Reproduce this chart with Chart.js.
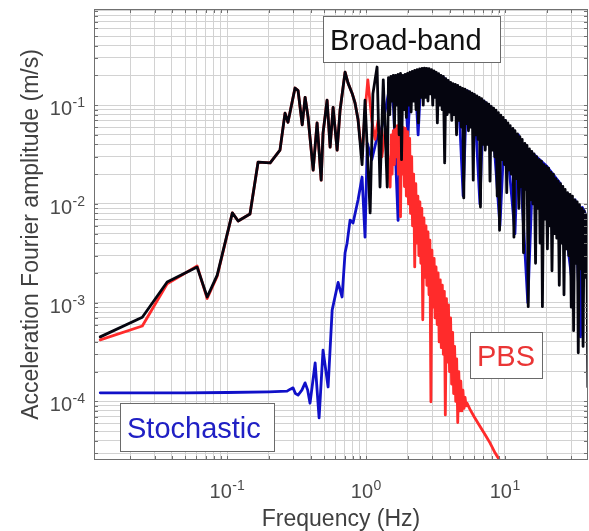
<!DOCTYPE html>
<html>
<head>
<meta charset="utf-8">
<script src="https://cdn.jsdelivr.net/npm/chart.js@4.4.1/dist/chart.umd.min.js"></script>
<style>
  html, body { margin: 0; padding: 0; background: #fff; }
</style>
</head>
<body>
<canvas id="grafico" width="589" height="531"></canvas>
<script>
// Broad-band (preto)
const bbFreq = [
  0.0122, 0.0245, 0.037, 0.0608, 0.0718, 0.0848, 0.109, 0.12, 0.146, 0.167,
  0.204, 0.24, 0.261, 0.274, 0.308, 0.324, 0.347, 0.364, 0.382, 0.416,
  0.444, 0.475, 0.49, 0.524, 0.551, 0.579, 0.619, 0.65, 0.706, 0.742,
  0.793, 0.833, 0.876, 0.936, 0.983, 1.07, 1.12, 1.2, 1.26, 1.33,
  1.42,
  1.45, 1.48, 1.51, 1.54, 1.57, 1.60, 1.63, 1.66, 1.70, 1.73,
  1.77, 1.80, 1.84, 1.88, 1.91, 1.95, 1.99, 2.03, 2.07, 2.11,
  2.15, 2.20, 2.24, 2.29, 2.33, 2.38, 2.43, 2.48, 2.53, 2.58,
  2.63, 2.68, 2.73, 2.79, 2.84, 2.90, 2.96, 3.02, 3.08, 3.14,
  3.20, 3.26, 3.33, 3.40, 3.46, 3.53, 3.60, 3.68, 3.75, 3.83,
  3.90, 3.98, 4.06, 4.14, 4.22, 4.31, 4.39, 4.48, 4.57, 4.66,
  4.76, 4.85, 4.95, 5.05, 5.15, 5.25, 5.36, 5.46, 5.57, 5.68,
  5.80, 5.91, 6.03, 6.15, 6.28, 6.40, 6.53, 6.66, 6.79, 6.93,
  7.07, 7.21, 7.35, 7.50, 7.65, 7.80, 7.96, 8.12, 8.28, 8.45,
  8.61, 8.79, 8.96, 9.14, 9.33, 9.51, 9.70, 9.90, 10.1, 10.3,
  10.5, 10.7, 10.9, 11.1, 11.4, 11.6, 11.8, 12.1, 12.3, 12.6,
  12.8, 13.1, 13.3, 13.6, 13.9, 14.1, 14.4, 14.7, 15.0, 15.3,
  15.6, 15.9, 16.2, 16.6, 16.9, 17.2, 17.6, 17.9, 18.3, 18.6,
  19.0, 19.4, 19.8, 20.2, 20.6, 21.0, 21.4, 21.8, 22.3, 22.7,
  23.2, 23.6, 24.1, 24.6, 25.1, 25.6, 26.1, 26.6, 27.1, 27.7,
  28.2, 28.8, 29.4, 30.0, 30.6, 31.2, 31.8, 32.4, 33.1, 33.7,
  34.4, 35.1, 35.8, 36.5, 37.2, 38.0, 38.7, 39.5, 40.3
];
const bbAmp = [
  4.5e-4, 7.1e-4, 1.62e-3, 2.29e-3, 1.14e-3, 1.9e-3, 8.1e-3, 6.7e-3, 7.9e-3, 2.65e-2,
  2.6e-2, 3.5e-2, 8.3e-2, 6.7e-2, 0.149, 0.14, 0.063, 0.12, 0.076, 0.022,
  0.066, 0.0174, 0.052, 0.112, 0.0376, 0.095, 0.035, 0.089, 0.216, 0.167,
  0.132, 0.105, 0.071, 0.025, 0.112, 0.0081, 0.13, 0.243, 0.0148, 0.18,
  0.0148,
  0.19, 0.08, 0.195, 0.11, 0.2, 0.06, 0.2, 0.1, 0.205, 0.05,
  0.21, 0.028, 0.2, 0.09, 0.205, 0.075, 0.21, 0.1, 0.215, 0.085,
  0.22, 0.11, 0.225, 0.09, 0.228, 0.066, 0.232, 0.12, 0.235, 0.1,
  0.237, 0.12, 0.236, 0.11, 0.234, 0.13, 0.228, 0.1, 0.222, 0.12,
  0.215, 0.066, 0.208, 0.1, 0.2, 0.09, 0.195, 0.026, 0.185, 0.08,
  0.178, 0.085, 0.17, 0.07, 0.165, 0.08, 0.162, 0.05, 0.158, 0.07,
  0.152, 0.06, 0.148, 0.0115, 0.145, 0.065, 0.14, 0.055, 0.137, 0.06,
  0.132, 0.0174, 0.128, 0.05, 0.124, 0.045, 0.12, 0.0093, 0.116, 0.04,
  0.11, 0.035, 0.106, 0.04, 0.102, 0.017, 0.097, 0.035, 0.093, 0.03,
  0.089, 0.012, 0.084, 0.0054, 0.079, 0.028, 0.075, 0.025, 0.07, 0.013,
  0.066, 0.022, 0.062, 0.02, 0.058, 0.0046, 0.055, 0.018, 0.051, 0.009,
  0.048, 0.015, 0.045, 0.0032, 0.041, 0.014, 0.039, 0.00091, 0.036, 0.011,
  0.034, 0.01, 0.032, 0.0025, 0.03, 0.009, 0.028, 0.004, 0.027, 0.00091,
  0.025, 0.007, 0.024, 0.0035, 0.023, 0.006, 0.021, 0.0021, 0.02, 0.005,
  0.018, 0.0045, 0.017, 0.0015, 0.016, 0.004, 0.015, 0.0012, 0.014, 0.0035,
  0.013, 0.003, 0.0125, 0.0009, 0.012, 0.00052, 0.011, 0.0025, 0.0105, 0.00031,
  0.0098, 0.0022, 0.009, 0.00036, 0.0085, 0.0018, 0.0078, 0.00014, 0.007
];

// PBS (vermelho)
const pbsFreq = [
  0.0122, 0.0245, 0.037, 0.0608, 0.0718, 0.0848, 0.109, 0.12, 0.146, 0.167,
  0.204, 0.24, 0.261, 0.274, 0.308, 0.324, 0.347, 0.364, 0.382, 0.416,
  0.444, 0.475, 0.49, 0.524, 0.551, 0.579, 0.619, 0.65, 0.706, 0.742,
  0.793, 0.833, 0.876, 0.936, 0.985, 1.03, 1.1, 1.16, 1.22, 1.3,
  1.38, 1.44,
  1.49, 1.52, 1.54, 1.57, 1.60, 1.62, 1.65, 1.68, 1.71, 1.74,
  1.77, 1.80, 1.83, 1.86, 1.89, 1.92, 1.95, 1.99, 2.02, 2.06,
  2.09, 2.13, 2.16, 2.20, 2.24, 2.28, 2.32, 2.36, 2.40, 2.44,
  2.48, 2.52, 2.56, 2.61, 2.65, 2.70, 2.74, 2.79, 2.84, 2.88,
  2.93, 2.98, 3.03, 3.09, 3.14, 3.19, 3.25, 3.30, 3.36, 3.42,
  3.48, 3.54, 3.60, 3.66, 3.72, 3.79, 3.85, 3.92, 3.99, 4.06,
  4.13, 4.20, 4.27, 4.34, 4.42, 4.49, 4.57, 4.65, 4.73, 4.81,
  4.90, 4.98, 5.07, 5.16, 5.25, 5.33,
  5.6, 6.0, 6.6, 7.2, 7.8, 8.5, 9.2, 9.8
];
const pbsAmp = [
  4.2e-4, 5.8e-4, 1.55e-3, 2.35e-3, 1.1e-3, 1.85e-3, 8.1e-3, 6.7e-3, 7.9e-3, 2.65e-2,
  2.6e-2, 3.5e-2, 8.3e-2, 6.7e-2, 0.149, 0.14, 0.063, 0.12, 0.076, 0.022,
  0.066, 0.0174, 0.052, 0.112, 0.0376, 0.095, 0.035, 0.089, 0.216, 0.167,
  0.132, 0.105, 0.071, 0.03, 0.09, 0.18, 0.07, 0.045, 0.07, 0.03,
  0.06, 0.028,
  0.0148, 0.05, 0.02, 0.055, 0.025, 0.058, 0.03, 0.062, 0.02, 0.063,
  0.0074, 0.06, 0.02, 0.059, 0.015, 0.058, 0.012, 0.054, 0.01, 0.046,
  0.008, 0.03, 0.006, 0.02, 0.0023, 0.016, 0.004, 0.012, 0.003, 0.0105,
  0.0025, 0.009, 0.00067, 0.0072, 0.0018, 0.006, 0.0015, 0.0052, 0.0012, 0.0043,
  0.000099, 0.0034, 0.0009, 0.0028, 0.0007, 0.0023, 0.0006, 0.002, 0.0004, 0.0017,
  0.00035, 0.0015, 0.0003, 0.0013, 0.000073, 0.0011, 0.00025, 0.00095, 0.0002, 0.0007,
  0.00015, 0.0005, 0.00012, 0.00036, 0.0001, 0.00027, 0.000061, 0.0002, 0.00008, 0.00016,
  0.00008, 0.00013, 0.000085, 0.00011, 0.00009, 0.000096,
  0.000083, 0.00007, 0.000056, 0.000046, 0.000038, 0.00003, 0.000025, 0.00002
];

// Stochastic (azul)
const stFreq = [
  0.0122, 0.05, 0.1, 0.2, 0.27, 0.285, 0.298, 0.31, 0.324, 0.345,
  0.364, 0.38, 0.395, 0.43, 0.459, 0.49, 0.533, 0.57, 0.629, 0.672,
  0.706, 0.73, 0.767, 0.806, 0.876, 0.936, 0.983, 1.02, 1.1, 1.2,
  1.3, 1.42, 1.5, 1.58, 1.7, 1.8, 1.9, 2.0, 2.1, 2.25,
  2.37, 2.5, 2.7, 3.0, 3.3, 3.6, 4.0, 4.6, 5.0, 5.3,
  6.0, 6.6, 7.0, 8.0, 9.2, 10, 11.8, 12.5, 14.6, 16,
  20, 25, 31, 32, 35, 36, 40
];
const stAmp = [
  1.22e-4, 1.22e-4, 1.23e-4, 1.25e-4, 1.27e-4, 1.33e-4, 1.37e-4, 1.2e-4, 1.16e-4, 1.3e-4,
  1.54e-4, 1.3e-4, 9.6e-5, 2.45e-4, 6.8e-5, 3.3e-4, 1.4e-4, 8.4e-4, 1.6e-3, 1.14e-3,
  3.2e-3, 4.0e-3, 6.85e-3, 6.4e-3, 1.1e-2, 1.87e-2, 4.6e-3, 4.1e-2, 2.8e-2, 4.7e-2,
  0.06, 0.112, 0.17, 0.09, 0.0068, 0.14, 0.2, 0.047, 0.2, 0.21,
  0.05, 0.23, 0.23, 0.22, 0.2, 0.19, 0.165, 0.15, 0.012, 0.14,
  0.125, 0.01, 0.11, 0.094, 0.006, 0.07, 0.005, 0.05, 0.001, 0.032,
  0.024, 0.016, 0.0013, 0.011, 0.00045, 0.0092, 0.0068
];

// eixos
const xTickVals = [0.1, 1, 10];
const xTickExp = ['-1', '0', '1'];
const yTickVals = [1e-4, 1e-3, 1e-2, 1e-1];
const yTickExp = ['-4', '-3', '-2', '-1'];
const xMin = 0.011, xMax = 39.6;
const yMin = 2.55e-5, yMax = 0.94;

const caixas = [
  { texto: 'Broad-band', cor: '#111111', x: 323, y: 16, w: 178, h: 47 },
  { texto: 'Stochastic', cor: '#2020c4', x: 120, y: 403, w: 155, h: 49 },
  { texto: 'PBS', cor: '#ea3535', x: 470, y: 332, w: 73, h: 47 }
];

const fonte = '"Liberation Sans", Arial, Helvetica, sans-serif';

function pares(f, a) {
  return f.map((v, i) => ({ x: v, y: a[i] }));
}

// linhas de grade 1..9 x 10^n
function gradeLog(min, max) {
  const vals = [];
  for (let e = Math.floor(Math.log10(min)); e <= Math.ceil(Math.log10(max)); e++) {
    for (let k = 1; k <= 9; k++) {
      const v = k * Math.pow(10, e);
      if (v > min * 1.001 && v < max * 0.999) vals.push(v);
    }
  }
  return vals;
}

function potencia(ctx, exp, xIni, base) {
  ctx.font = '20px ' + fonte;
  const wb = ctx.measureText('10').width;
  ctx.fillText('10', xIni, base);
  ctx.font = '14px ' + fonte;
  ctx.fillText(exp, xIni + wb + 0.5, base - 8);
}

function larguraPot(ctx, exp) {
  ctx.font = '20px ' + fonte;
  const wb = ctx.measureText('10').width;
  ctx.font = '14px ' + fonte;
  return wb + 0.5 + ctx.measureText(exp).width;
}

const moldura = {
  id: 'moldura',
  afterDraw(chart) {
    const { ctx, chartArea: a, scales: { x, y } } = chart;
    ctx.save();
    ctx.strokeStyle = '#707070';
    ctx.lineWidth = 1;
    ctx.beginPath();
    x.ticks.forEach(t => {
      const px = Math.round(x.getPixelForValue(t.value)) + 0.5;
      ctx.moveTo(px, a.top); ctx.lineTo(px, a.top + 4);
      ctx.moveTo(px, a.bottom); ctx.lineTo(px, a.bottom - 4);
    });
    y.ticks.forEach(t => {
      const py = Math.round(y.getPixelForValue(t.value)) + 0.5;
      ctx.moveTo(a.left, py); ctx.lineTo(a.left + 4, py);
      ctx.moveTo(a.right, py); ctx.lineTo(a.right - 4, py);
    });
    ctx.stroke();
    ctx.strokeRect(a.left + 0.5, a.top + 0.5, a.right - a.left - 1, a.bottom - a.top - 1);

    // rotulos 10^n
    ctx.fillStyle = '#4a4a4a';
    ctx.textBaseline = 'alphabetic';
    ctx.textAlign = 'left';
    xTickVals.forEach((v, i) => {
      const px = x.getPixelForValue(v);
      const w = larguraPot(ctx, xTickExp[i]);
      potencia(ctx, xTickExp[i], px - w / 2, a.bottom + 38);
    });
    yTickVals.forEach((v, i) => {
      const py = y.getPixelForValue(v);
      const w = larguraPot(ctx, yTickExp[i]);
      potencia(ctx, yTickExp[i], a.left - 9 - w, py + 10);
    });

    // caixas de texto
    ctx.font = '29px ' + fonte;
    caixas.forEach(c => {
      ctx.fillStyle = '#ffffff';
      ctx.fillRect(c.x, c.y, c.w, c.h);
      ctx.strokeStyle = '#6a6a6a';
      ctx.strokeRect(c.x + 0.5, c.y + 0.5, c.w - 1, c.h - 1);
      ctx.fillStyle = c.cor;
      ctx.fillText(c.texto, c.x + 7, c.y + c.h / 2 + 10.4);
    });
    ctx.restore();
  }
};

const serie = (dados, cor) => ({
  data: dados,
  borderColor: cor,
  borderWidth: 2.8,
  borderJoinStyle: 'round',
  borderCapStyle: 'round',
  pointRadius: 0,
  tension: 0,
  fill: false,
  clip: 0
});

const grafico = new Chart(document.getElementById('grafico').getContext('2d'), {
  type: 'line',
  data: {
    datasets: [
      serie(pares(bbFreq, bbAmp), '#05050f'),
      serie(pares(pbsFreq, pbsAmp), '#ff2b2b'),
      serie(pares(stFreq, stAmp), '#1010c8')
    ]
  },
  options: {
    responsive: false,
    animation: false,
    layout: { padding: { top: 9, right: 1, left: 0, bottom: 0 } },
    plugins: { legend: { display: false }, tooltip: { enabled: false } },
    scales: {
      x: {
        type: 'logarithmic',
        min: xMin,
        max: xMax,
        afterBuildTicks: ax => { ax.ticks = gradeLog(xMin, xMax).map(v => ({ value: v })); },
        afterFit: ax => { ax.height = 71; },
        grid: { color: '#d2d2d2', drawTicks: false },
        border: { display: false },
        ticks: { display: false },
        title: {
          display: true,
          text: 'Frequency (Hz)',
          color: '#404040',
          font: { size: 23, family: fonte },
          padding: { top: 0, bottom: -2 }
        }
      },
      y: {
        type: 'logarithmic',
        min: yMin,
        max: yMax,
        afterBuildTicks: ax => { ax.ticks = gradeLog(yMin, yMax).map(v => ({ value: v })); },
        afterFit: ax => { ax.width = 94; },
        grid: { color: '#d2d2d2', drawTicks: false },
        border: { display: false },
        ticks: { display: false },
        title: {
          display: true,
          text: 'Acceleration Fourier amplitude (m/s)',
          color: '#404040',
          font: { size: 23, family: fonte },
          padding: { top: 18, bottom: 0 }
        }
      }
    }
  },
  plugins: [moldura]
});
</script>
</body>
</html>
